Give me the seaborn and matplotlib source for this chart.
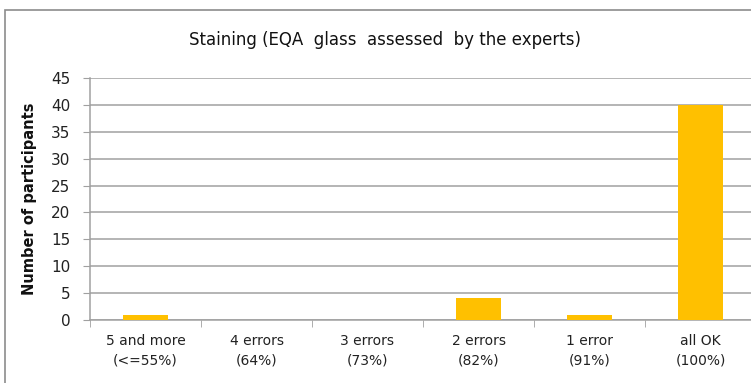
import matplotlib
matplotlib.use("Agg")
import matplotlib.pyplot as plt
import seaborn as sns
import pandas as pd
import numpy as np
from matplotlib.patches import Rectangle

categories = ["5 and more\n(<=55%)", "4 errors\n(64%)", "3 errors\n(73%)",
              "2 errors\n(82%)", "1 error\n(91%)", "all OK\n(100%)"]
values = [1, 0, 0, 4, 1, 40]
yticks = [0, 5, 10, 15, 20, 25, 30, 35, 40, 45]
title = "Staining (EQA  glass  assessed  by the experts)"
ylabel = "Number of participants"

sns.set_style("white")
plt.rcParams['font.family'] = ['DejaVu Sans']

fig = plt.figure(figsize=(7.51, 3.83), dpi=100)
fig.patches.append(Rectangle((5/751, -0.1), 1.2, 1 - 10/383 + 0.1, transform=fig.transFigure,
                             fill=False, edgecolor="#8c8c8c", linewidth=1.2))
ax = fig.add_axes([90/751, 1 - 320/383, 666/751, (320 - 78)/383])

df = pd.DataFrame({"cat": categories, "val": values})
sns.barplot(data=df, x="cat", y="val", color="#FFC000", width=0.41, ax=ax,
            saturation=1, zorder=3, edgecolor="none", linewidth=0)

ax.set_ylim(0, 45)
ax.set_yticks(yticks)
ax.set_xlim(-0.5, 5.5)
ax.grid(axis="y", color="#a0a0a0", linewidth=1.1, zorder=0)
ax.set_axisbelow(True)
for s in ["top", "right"]:
    ax.spines[s].set_visible(False)
ax.spines["left"].set_color("#a0a0a0")
ax.spines["bottom"].set_color("#a0a0a0")
ax.spines["left"].set_linewidth(1.1)
ax.spines["bottom"].set_linewidth(1.1)

ax.tick_params(axis="y", length=5, color="#a0a0a0", labelsize=11, labelcolor="#222222", pad=9, left=True)
ax.set_xticks(np.arange(len(categories)))
ax.set_xticklabels(categories, fontsize=10, color="#222222", linespacing=1.5)
ax.tick_params(axis="x", length=0, pad=10)
ax.set_xticks(np.arange(-0.5, 6.0, 1.0), minor=True)
ax.tick_params(axis="x", which="minor", length=5, color="#a0a0a0", bottom=True)

ax.set_xlabel("")
ax.set_ylabel(ylabel, fontsize=10.5, fontweight="bold", color="#111111", labelpad=10)
fig.text(385/751, 1 - 40/383, title, ha="center", va="center", fontsize=12, color="#111111")

fig.savefig("out.png", dpi=100)
